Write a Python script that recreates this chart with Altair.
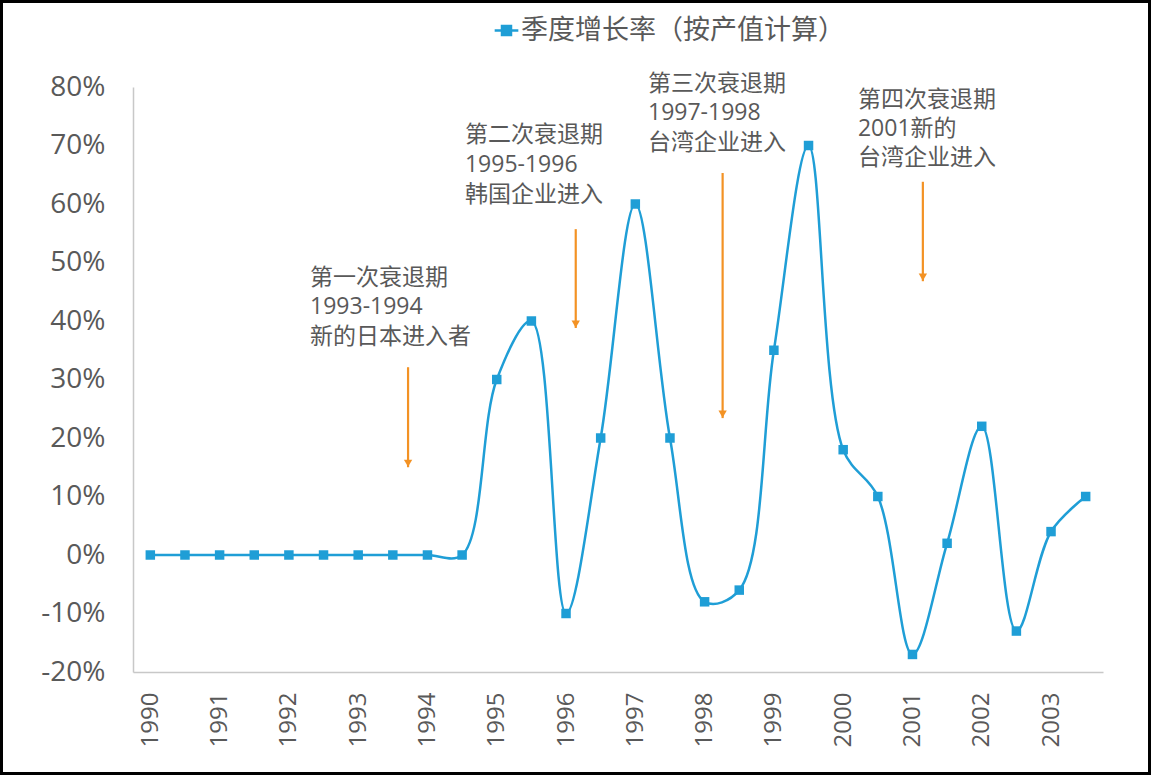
import altair as alt
import pandas as pd

# half-year periods and growth values
periods = [1990.0, 1990.5, 1991.0, 1991.5, 1992.0, 1992.5, 1993.0, 1993.5,
           1994.0, 1994.5, 1995.0, 1995.5, 1996.0, 1996.5, 1997.0, 1997.5,
           1998.0, 1998.5, 1999.0, 1999.5, 2000.0, 2000.5, 2001.0, 2001.5,
           2002.0, 2002.5, 2003.0, 2003.5]
growth = [0.00, 0.00, 0.00, 0.00, 0.00, 0.00, 0.00, 0.00,
          0.00, 0.00, 0.30, 0.40, -0.10, 0.20, 0.60, 0.20,
          -0.08, -0.06, 0.35, 0.70, 0.18, 0.10, -0.17, 0.02,
          0.22, -0.13, 0.04, 0.10]
year_ticks = [1990, 1991, 1992, 1993, 1994, 1995, 1996,
              1997, 1998, 1999, 2000, 2001, 2002, 2003]
series_name = "季度增长率（按产值计算）"

# annotation arrows (x in years, y from start to tip)
arrow_x = [1993.72, 1996.14, 1998.26, 2001.15]
arrow_y1 = [0.321, 0.557, 0.653, 0.638]
arrow_y2 = [0.150, 0.388, 0.234, 0.468]

# annotation text lines
text_lines = ["第一次衰退期", "1993-1994", "新的日本进入者",
              "第二次衰退期", "1995-1996", "韩国企业进入",
              "第三次衰退期", "1997-1998", "台湾企业进入",
              "第四次衰退期", "2001新的", "台湾企业进入"]
text_x = [1992.305] * 3 + [1994.541] * 3 + [1997.183] * 3 + [2000.213] * 3
text_y = [0.4735, 0.424, 0.3726,
          0.718, 0.6667, 0.6154,
          0.805, 0.7556, 0.7043,
          0.7778, 0.728, 0.6786]

BLUE = "#1F9ED6"
ORANGE = "#F39224"
GREY = "#595959"
FONT = "Open Sans, Noto Sans CJK SC"

df = pd.DataFrame({"period": periods, "growth": growth, "series": series_name})
arrows = pd.DataFrame({"x": arrow_x, "y1": arrow_y1, "y2": arrow_y2})
texts = pd.DataFrame({"x": text_x, "y": text_y, "t": text_lines})

xscale = alt.Scale(domain=[1989.75, 2003.75], nice=False, zero=False)
yscale = alt.Scale(domain=[-0.2, 0.8], nice=False, zero=False)

xaxis = alt.Axis(values=year_ticks, format="d", labelAngle=270, labelAlign="right",
                 labelBaseline="middle", labelPadding=20, ticks=False, grid=False,
                 title=None, labelFont=FONT, labelFontSize=24, labelColor=GREY,
                 domainColor="#C8C8C8", domainWidth=1.5, labelOverlap=False)
yaxis = alt.Axis(values=[-0.2, -0.1, 0, 0.1, 0.2, 0.3, 0.4, 0.5, 0.6, 0.7, 0.8],
                 format=".0%", labelExpr="replace(datum.label, '\u2212', '-')",
                 ticks=False, grid=False, title=None, labelPadding=28,
                 labelFont=FONT, labelFontSize=28, labelColor=GREY,
                 domainColor="#C8C8C8", domainWidth=1.5)

line = alt.Chart(df).mark_line(interpolate="catmull-rom", strokeWidth=2.5).encode(
    x=alt.X("period:Q", scale=xscale, axis=xaxis),
    y=alt.Y("growth:Q", scale=yscale, axis=yaxis),
    color=alt.Color("series:N", scale=alt.Scale(range=[BLUE]),
                    legend=alt.Legend(orient="none", legendX=360, legendY=-70,
                                      title=None, labelFont=FONT, labelFontSize=27,
                                      labelColor=GREY, labelOffset=1, labelLimit=0,
                                      symbolType="M-1,0H1M-0.38,-0.38H0.38V0.38H-0.38Z",
                                      symbolSize=560, symbolStrokeWidth=2.5,
                                      symbolFillColor=BLUE, symbolStrokeColor=BLUE)),
)

points = alt.Chart(df).mark_point(shape="square", filled=True, size=90,
                                  color=BLUE, opacity=1).encode(
    x=alt.X("period:Q", scale=xscale),
    y=alt.Y("growth:Q", scale=yscale),
)

rules = alt.Chart(arrows).mark_rule(color=ORANGE, strokeWidth=2.2).encode(
    x=alt.X("x:Q", scale=xscale),
    y=alt.Y("y1:Q", scale=yscale),
    y2="y2:Q",
)

heads = alt.Chart(arrows).mark_point(shape="triangle-down", filled=True, size=70,
                                     color=ORANGE, opacity=1).encode(
    x=alt.X("x:Q", scale=xscale),
    y=alt.Y("y2:Q", scale=yscale),
    yOffset=alt.value(-4),
)

labels = alt.Chart(texts).mark_text(align="left", baseline="middle", font=FONT,
                                    fontSize=23, color=GREY).encode(
    x=alt.X("x:Q", scale=xscale),
    y=alt.Y("y:Q", scale=yscale),
    text="t:N",
)

frame = alt.Chart(pd.DataFrame({"a": [0]})).mark_rect(
    fill=None, fillOpacity=0, stroke="#000000", strokeWidth=3).encode(
    x=alt.value(-131.5), x2=alt.value(1016.5),
    y=alt.value(-85.5), y2=alt.value(686.5),
)

chart = alt.layer(line, points, rules, heads, labels, frame).properties(
    width=970, height=585,
    padding={"left": 133, "top": 87, "right": 51, "bottom": 106},
    autosize="none",
    background="white",
).configure_view(stroke=None)

chart.save("out.html", embed_options={"renderer": "svg", "actions": False})
